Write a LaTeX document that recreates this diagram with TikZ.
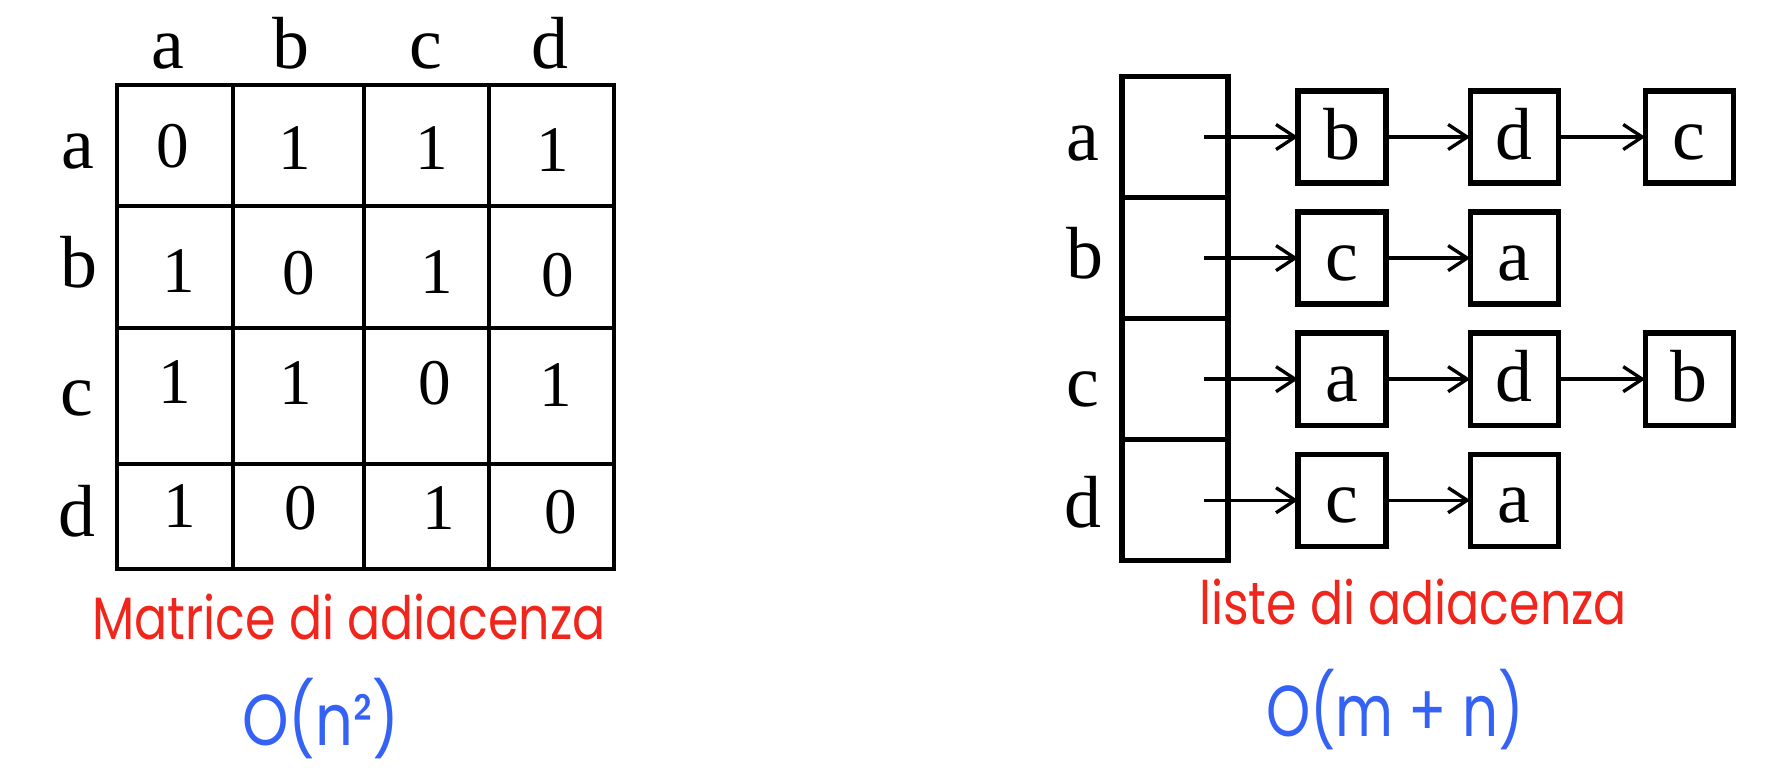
\documentclass[tikz,border=0pt]{standalone}
\usepackage{graphicx}
\usepackage{fontspec}
\setmainfont{Liberation Serif}
\newfontfamily\handfont{Poppins}
\usetikzlibrary{positioning, arrows.meta}
\definecolor{capred}{RGB}{240,38,28}
\definecolor{costblue}{RGB}{52,98,245}
\newcommand{\squeeze}[1]{\scalebox{0.82}[1]{#1}}

\begin{document}
\begin{tikzpicture}[
    x=0.01cm, y=-0.01cm,
    every node/.style={inner sep=0pt, outer sep=0pt},
    vname/.style={font=\fontsize{21}{21}\selectfont, anchor=base},
    entry/.style={font=\fontsize{18.5}{18.5}\selectfont},
    grid/.style={line width=1.25pt},
    slot/.style={draw, line width=1.5pt, minimum width=1.06cm, minimum height=1.21cm},
    item/.style={draw, line width=1.5pt, minimum width=0.88cm, minimum height=0.92cm,
        font=\fontsize{21}{21}\selectfont, text height=0.45cm, text depth=0pt},
    link/.style={-{Straight Barb[length=0.19cm, width=0.25cm]}, line width=0.95pt},
    caption/.style={text=capred, font=\handfont\fontsize{17}{17}\selectfont},
    cost/.style={text=costblue, font=\handfont\fontsize{20.5}{20.5}\selectfont}
]
\useasboundingbox (0,0) rectangle (1784,772);

% Matrix
\draw[grid] (117,85) rectangle (614,569);
\draw[grid] (233,85) -- (233,569);
\draw[grid] (364,85) -- (364,569);
\draw[grid] (489,85) -- (489,569);
\draw[grid] (117,206) -- (614,206);
\draw[grid] (117,328) -- (614,328);
\draw[grid] (117,464) -- (614,464);

\node[vname] (col_a) at (168,68) {a};
\node[vname] (col_b) at (291,68) {b};
\node[vname] (col_c) at (426,68) {c};
\node[vname] (col_d) at (550,68) {d};
\node[vname] (row_a) at (78,168) {a};
\node[vname] (row_b) at (79,287) {b};
\node[vname] (row_c) at (77,415) {c};
\node[vname] (row_d) at (77,536) {d};

\node[entry] (m_aa) at (173,146) {0};
\node[entry] (m_ab) at (295,148) {1};
\node[entry] (m_ac) at (432,148) {1};
\node[entry] (m_ad) at (553,150) {1};
\node[entry] (m_ba) at (179,271) {1};
\node[entry] (m_bb) at (299,273) {0};
\node[entry] (m_bc) at (437,272) {1};
\node[entry] (m_bd) at (558,275) {0};
\node[entry] (m_ca) at (175,382) {1};
\node[entry] (m_cb) at (296,383) {1};
\node[entry] (m_cc) at (435,383) {0};
\node[entry] (m_cd) at (556,385) {1};
\node[entry] (m_da) at (180,506) {1};
\node[entry] (m_db) at (301,508) {0};
\node[entry] (m_dc) at (439,508) {1};
\node[entry] (m_dd) at (561,512) {0};

\node[caption] (mat_name) at (349,617) {\squeeze{Matrice di adiacenza}};
\node[cost] (mat_cost) at (321,719) {\squeeze{O(n²)}};

% Lists
\node[slot] (slot_a) at (1175,137) {};
\node[slot, below=0pt of slot_a] (slot_b) {};
\node[slot, below=0pt of slot_b] (slot_c) {};
\node[slot, below=0pt of slot_c] (slot_d) {};

\node[vname] (lbl_a) at (1083,160) {a};
\node[vname] (lbl_b) at (1085,278) {b};
\node[vname] (lbl_c) at (1083,406) {c};
\node[vname] (lbl_d) at (1083,527) {d};

\node[item, right=0.7cm of slot_a] (a_b) {b};
\node[item, right=0.84cm of a_b] (a_d) {d};
\node[item, right=0.87cm of a_d] (a_c) {c};
\node[item, right=0.7cm of slot_b] (b_c) {c};
\node[item, right=0.84cm of b_c] (b_a) {a};
\node[item, right=0.7cm of slot_c] (c_a) {a};
\node[item, right=0.84cm of c_a] (c_d) {d};
\node[item, right=0.87cm of c_d] (c_b) {b};
\node[item, right=0.7cm of slot_d] (d_c) {c};
\node[item, right=0.84cm of d_c] (d_a) {a};

\draw[link] ([xshift=0.29cm]slot_a.center) -- (a_b.west);
\draw[link] (a_b) -- (a_d);
\draw[link] (a_d) -- (a_c);
\draw[link] ([xshift=0.29cm]slot_b.center) -- (b_c.west);
\draw[link] (b_c) -- (b_a);
\draw[link] ([xshift=0.29cm]slot_c.center) -- (c_a.west);
\draw[link] (c_a) -- (c_d);
\draw[link] (c_d) -- (c_b);
\draw[link] ([xshift=0.29cm]slot_d.center) -- (d_c.west);
\draw[link] (d_c) -- (d_a);

\node[caption] (list_name) at (1413,602) {\squeeze{liste di adiacenza}};
\node[cost] (list_cost) at (1395,710) {\scalebox{0.78}[1]{O(m + n)}};

\end{tikzpicture}
\end{document}
